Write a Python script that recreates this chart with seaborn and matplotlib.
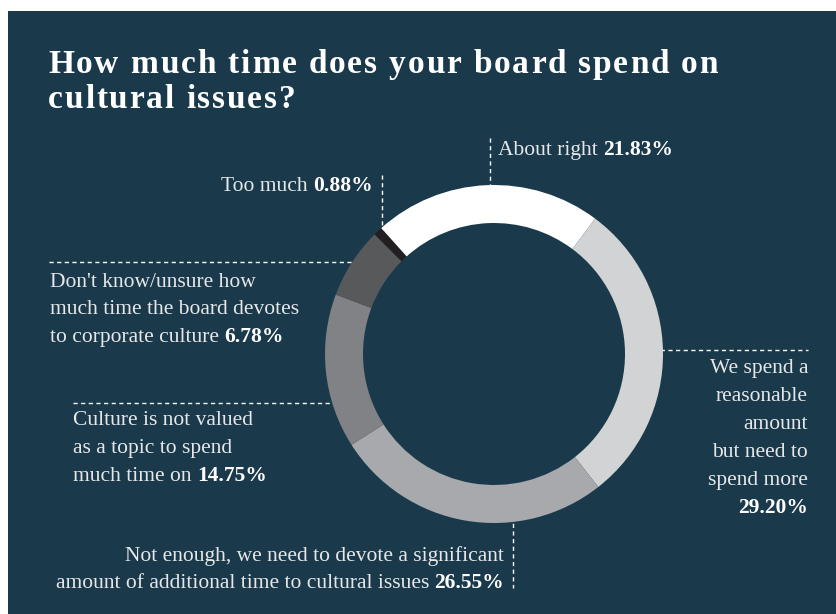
import matplotlib
matplotlib.use("Agg")
import matplotlib.pyplot as plt
from matplotlib.patches import Rectangle
from matplotlib.font_manager import FontProperties
import seaborn as sns

# データ（時計回り、左上から）
categories = ["Too much", "About right",
              "We spend a reasonable amount but need to spend more",
              "Not enough, we need to devote a significant amount of additional time to cultural issues",
              "Culture is not valued as a topic to spend much time on",
              "Don't know/unsure how much time the board devotes to corporate culture"]
shares = [0.88, 21.83, 29.20, 26.55, 14.75, 6.78]
pct_labels = ["0.88%", "21.83%", "29.20%", "26.55%", "14.75%", "6.78%"]
ring_colors = ["#231f20", "#ffffff", "#d1d3d4", "#a7a9ac", "#808285", "#58595b"]

title_lines = ["How much time does your board spend on", "cultural issues?"]

# ラベルの改行
label_lines = [
    ["Too much"],
    ["About right"],
    ["We spend a", "reasonable", "amount", "but need to", "spend more", ""],
    ["Not enough, we need to devote a significant",
     "amount of additional time to cultural issues"],
    ["Culture is not valued", "as a topic to spend", "much time on"],
    ["Don't know/unsure how", "much time the board devotes", "to corporate culture"],
]

BG = "#1a3a4c"
TXT = "#e6e7e8"
W, H = 836, 614

sns.set_theme(style="white")
plt.rcParams["font.family"] = ["Liberation Serif", "DejaVu Serif"]

fig = plt.figure(figsize=(W / 100, H / 100), dpi=100, facecolor="white")
ax = fig.add_axes([0, 0, 1, 1])
ax.set_xlim(0, W)
ax.set_ylim(H, 0)
ax.axis("off")
ax.add_patch(Rectangle((8, 11), W - 8, H - 11, facecolor=BG, edgecolor="none", zorder=0))

# ドーナツ
cx, cy, r_out, ring = 494, 354, 169, 38
pax = fig.add_axes([(cx - r_out) / W, (H - cy - r_out) / H, 2 * r_out / W, 2 * r_out / H])
pax.pie(shares, colors=sns.color_palette(ring_colors), startangle=135, counterclock=False,
        radius=1, wedgeprops=dict(width=ring / r_out, linewidth=0))
pax.set_xlim(-1, 1)
pax.set_ylim(-1, 1)
pax.axis("off")

renderer = fig.canvas.get_renderer()


def text_w(s, size, weight="normal"):
    fp = FontProperties(family=["Liberation Serif"], size=size, weight=weight)
    if s == " ":
        a = renderer.get_text_width_height_descent("n n", fp, ismath=False)[0]
        b = renderer.get_text_width_height_descent("nn", fp, ismath=False)[0]
        return a - b
    return renderer.get_text_width_height_descent(s, fp, ismath=False)[0]


def tracked(x, y, s, size, track):
    for ch in s:
        ax.text(x, y, ch, fontsize=size, fontweight="bold", color="white",
                ha="left", va="baseline")
        x += text_w(ch, size, "bold") + track


# タイトル（字間を広げる）
tsize = 24
natural = sum(text_w(c, tsize, "bold") for c in title_lines[0])
track = (670 - natural) / (len(title_lines[0]) - 1)
tracked(48, 73, title_lines[0], tsize, track)
tracked(48, 108, title_lines[1], tsize, track)

fs = 15.5
gap = text_w(" ", fs)


def rich(x, y, normal, bold, ha):
    wn = text_w(normal, fs) if normal else 0
    wb = text_w(bold, fs, "bold") if bold else 0
    total = wn + wb + (gap if normal and bold else 0)
    x0 = x if ha == "left" else x - total
    if normal:
        ax.text(x0, y, normal, fontsize=fs, color=TXT, ha="left", va="baseline")
    if bold:
        ax.text(x0 + total - wb, y, bold, fontsize=fs, fontweight="bold",
                color="white", ha="left", va="baseline")


def block(x, y0, lines, pct, ha, step=28):
    for i, ln in enumerate(lines):
        last = i == len(lines) - 1
        rich(x, y0 + i * step, ln, pct if last else "", ha)


dash = dict(color="white", lw=1, ls=(0, (3, 2.5)))

# Too much
block(373, 191, label_lines[0], pct_labels[0], "right")
ax.plot([382, 382], [175, 231], **dash)
# About right
block(498, 155, label_lines[1], pct_labels[1], "left")
ax.plot([490, 490], [138, 185], **dash)
# We spend a reasonable amount
block(808, 373, label_lines[2], pct_labels[2], "right")
ax.plot([645, 808], [350, 350], **dash)
# Not enough
block(504, 561, label_lines[3], pct_labels[3], "right", step=27)
ax.plot([513, 513], [508, 588], **dash)
# Culture is not valued
block(73, 425, label_lines[4], pct_labels[4], "left")
ax.plot([73, 342], [403, 403], **dash)
# Don't know
block(50, 287, label_lines[5], pct_labels[5], "left", step=27.5)
ax.plot([49, 366], [262, 262], **dash)

fig.savefig("out.png", dpi=100, facecolor="white")
